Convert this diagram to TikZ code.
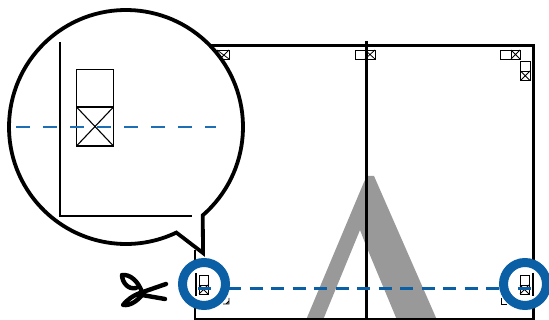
\documentclass[tikz,border=0pt]{standalone}
\definecolor{cutblue}{RGB}{10,95,165}
\definecolor{zoomblue}{RGB}{30,110,180}
\begin{document}
\begin{tikzpicture}[x=1pt,y=-1pt,
  frameline/.style={black,line width=2.5pt},
  thin box/.style={draw=black,line width=0.95pt,fill=white},
  tiny mark/.style={black,line width=0.8pt},
  cutline/.style={draw=cutblue,line width=2.4pt,dash pattern=on 13pt off 8.5pt},
  zoomcut/.style={draw=zoomblue,line width=1.2pt,dash pattern=on 14pt off 13pt},
  ring/.style={draw=cutblue,line width=9pt,fill=white},
  bubble/.style={draw=black,line width=3.8pt,fill=white,line join=miter}]
\useasboundingbox (0,0) rectangle (549,320);
% grey letter
\fill[gray!80!white] (306,320) -- (364,182) -- (367,176) -- (374,176) -- (437,320) -- (397,320) -- (367,248) -- (360,230) -- (323,320) -- cycle;
% sheet frame
\draw[frameline] (211,45.5) -- (533.5,45.5) -- (533.5,319) -- (195,319) -- (195,250);
\coordinate (ct) at (366,41);
\coordinate (cb) at (366,320);
\draw[black,line width=3pt] (ct) -- (cb);
% corner marks, top
\draw[tiny mark] (217,50) rectangle (229,59);
\draw[tiny mark] (217,50) -- (229,59) (229,50) -- (220,59);
\draw[thin box] (355,50) rectangle (365,59);
\draw[tiny mark] (365,50) rectangle (375,59);
\draw[tiny mark] (365,50) -- (375,59) (375,50) -- (365,59);
\draw[thin box] (500,50) rectangle (511,59);
\draw[tiny mark] (511,50) rectangle (520,59);
\draw[tiny mark] (511,50) -- (520,59) (520,50) -- (511,59);
\draw[thin box] (520.5,61) rectangle (530,71);
\draw[tiny mark] (520.5,71) rectangle (530,80.5);
\draw[tiny mark] (520.5,71) -- (530,80.5) (530,71) -- (520.5,80.5);
% bottom corner ticks
\draw[tiny mark] (223,304) -- (229,304) -- (229,298) (226,304) -- (229,301);
\draw[tiny mark] (501,298) -- (501,304) -- (507,304);
% cut line
\coordinate (cutl) at (228,288.5);
\coordinate (cutr) at (505,288.5);
\draw[cutline] (cutl) -- (cutr);
% rings
\node[ring,circle,minimum size=43pt,inner sep=0pt] (ringl) at (204,284) {};
\node[ring,circle,minimum size=43pt,inner sep=0pt] (ringr) at (525,284) {};
% left ring content
\draw[black,line width=1.3pt] (196,273) -- (196,296);
\draw[thin box] (199,275) rectangle (208,285);
\draw[tiny mark] (199,285) rectangle (208,294);
\draw[tiny mark] (199,285) -- (208,294) (208,285) -- (199,294);
\draw[cutblue,line width=2.2pt] (198,288.5) -- (211,288.5);
% right ring content
\draw[black,line width=1.3pt] (533,273) -- (533,296);
\draw[thin box] (520,275) rectangle (529,285);
\draw[tiny mark] (520,285) rectangle (529,294);
\draw[tiny mark] (520,285) -- (529,294) (529,285) -- (520,294);
\draw[cutblue,line width=2.2pt] (518,288.5) -- (531,288.5);
% bubble
\coordinate (bc) at (126,127);
\draw[bubble] ([shift={(-49:117pt)}]bc) arc[start angle=-49,end angle=295.5,radius=117pt]
  -- (203,253) -- cycle;
% zoomed content
\coordinate (zl) at (16,127);
\coordinate (zr) at (216,127);
\draw[black,line width=2.8pt] (60,42) -- (60,216) -- (192,216);
\draw[black,line width=1.1pt] (76.5,69.5) rectangle (113.5,107);
\draw[black,line width=1.1pt] (76.5,107) rectangle (113.5,146);
\draw[black,line width=1.1pt] (76.5,107) -- (113.5,146) (113.5,107) -- (76.5,146);
\draw[zoomcut] (zl) -- (zr);
% scissors
\draw[black,line width=4.4pt,line cap=round,line join=round]
  (166,284) -- (140,293) .. controls (132,296) and (126,301) .. (123,305)
  .. controls (131,306) and (138,300) .. (142,295) -- (165,299);
\draw[black,line width=4.4pt,line cap=round,line join=round]
  (136,288) .. controls (128,290) and (122,282) .. (122,275)
  .. controls (130,274) and (138,281) .. (142,292);
\end{tikzpicture}
\end{document}
